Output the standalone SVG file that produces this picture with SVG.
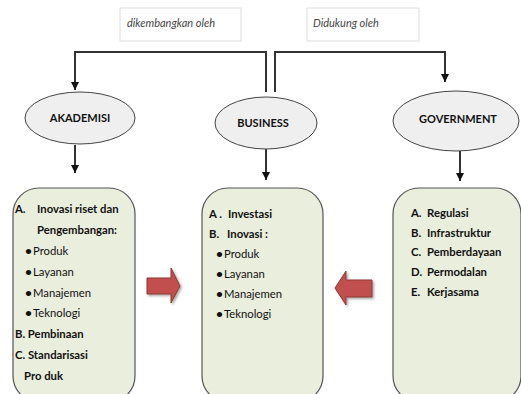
<svg xmlns="http://www.w3.org/2000/svg" width="521" height="394" viewBox="0 0 521 394">
<defs>
<marker id="ah" viewBox="0 0 10 10" refX="10" refY="5" markerWidth="8" markerHeight="8" markerUnits="userSpaceOnUse" orient="auto">
<path d="M0,0 L10,5 L0,10 z" fill="#111"/>
</marker>
<filter id="sh" x="-20%" y="-20%" width="150%" height="150%">
<feDropShadow dx="1.5" dy="1.5" stdDeviation="1" flood-color="#000" flood-opacity="0.35"/>
</filter>
</defs>
<style>
text{font-family:Lato,"Open Sans","Liberation Sans",sans-serif;fill:#111;font-size:11.3px}
.b{font-weight:bold}
.lbl{font-style:italic;fill:#444;font-size:11px}
.lblbox{fill:#fff;stroke:#ddd;stroke-width:1}
.ell{fill:#efefef;stroke:#444;stroke-width:1}
.box{fill:#eaeedd;stroke:#555;stroke-width:1.2}
.con{fill:none;stroke:#333;stroke-width:2}
.red{fill:#c0504d;stroke:#8c3836;stroke-width:1;filter:url(#sh)}
.et{font-weight:bold;text-anchor:middle;font-size:11px}
.bul{font-size:12px;font-weight:bold}
</style>
<rect x="0" y="0" width="521" height="394" fill="#fff"/>
<g id="label-dikembangkan">
<rect class="lblbox" x="120" y="8" width="121" height="33"/>
<text class="lbl" x="127" y="27">dikembangkan oleh</text>
</g>
<g id="label-didukung">
<rect class="lblbox" x="307" y="8" width="112" height="33"/>
<text class="lbl" x="313" y="27">Didukung oleh</text>
</g>
<g id="connectors">
<path class="con" d="M266,92 V52 H75 V90" marker-end="url(#ah)"/>
<path class="con" d="M275,92 V52 H445 V82" marker-end="url(#ah)"/>
<path class="con" d="M75,145 V173" marker-end="url(#ah)"/>
<path class="con" d="M266,149 V180" marker-end="url(#ah)"/>
<path class="con" d="M460,151 V181" marker-end="url(#ah)"/>
</g>
<g id="akademisi">
<ellipse class="ell" cx="80" cy="118" rx="55" ry="26"/>
<text class="et" x="80" y="122">AKADEMISI</text>
</g>
<g id="business">
<ellipse class="ell" cx="266" cy="123" rx="51" ry="26"/>
<text class="et" x="263" y="127">BUSINESS</text>
</g>
<g id="government">
<ellipse class="ell" cx="456" cy="121" rx="63" ry="30"/>
<text class="et" x="458" y="123">GOVERNMENT</text>
</g>
<g id="box-akademisi">
<rect class="box" x="13" y="188" width="122" height="214" rx="26"/>
<text class="b" x="15" y="213">A.</text><text class="b" x="37" y="213">Inovasi riset dan</text>
<text class="b" x="37" y="234">Pengembangan:</text>
<text class="bul" x="25" y="255">•</text><text x="33" y="255">Produk</text>
<text class="bul" x="25" y="276">•</text><text x="33" y="276">Layanan</text>
<text class="bul" x="25" y="297">•</text><text x="33" y="297">Manajemen</text>
<text class="bul" x="25" y="317">•</text><text x="33" y="317">Teknologi</text>
<text class="b" x="15" y="338">B. Pembinaan</text>
<text class="b" x="15" y="359">C. Standarisasi</text>
<text class="b" x="24" y="380">Pro duk</text>
</g>
<g id="box-business">
<rect class="box" x="202" y="188" width="121" height="214" rx="26"/>
<text class="b" x="209" y="218">A .</text><text class="b" x="228" y="218">Investasi</text>
<text class="b" x="209" y="238">B.</text><text class="b" x="227" y="238">Inovasi :</text>
<text class="bul" x="216" y="258">•</text><text x="224" y="258">Produk</text>
<text class="bul" x="216" y="278">•</text><text x="224" y="278">Layanan</text>
<text class="bul" x="216" y="298">•</text><text x="224" y="298">Manajemen</text>
<text class="bul" x="216" y="318">•</text><text x="224" y="318">Teknologi</text>
</g>
<g id="box-government">
<rect class="box" x="393" y="188" width="128" height="214" rx="26"/>
<text class="b" x="411" y="217">A.</text><text class="b" x="427" y="217">Regulasi</text>
<text class="b" x="411" y="237">B.</text><text class="b" x="427" y="237">Infrastruktur</text>
<text class="b" x="411" y="256">C.</text><text class="b" x="427" y="256">Pemberdayaan</text>
<text class="b" x="411" y="276">D.</text><text class="b" x="427" y="276">Permodalan</text>
<text class="b" x="411" y="296">E.</text><text class="b" x="427" y="296">Kerjasama</text>
</g>
<g id="arrow-right">
<path class="red" d="M147,278 H171 V268 L180,286 L171,303 V294 H147 z"/>
</g>
<g id="arrow-left">
<path class="red" d="M372,280 H346 V271 L335,288 L346,305 V297 H372 z"/>
</g>
</svg>
